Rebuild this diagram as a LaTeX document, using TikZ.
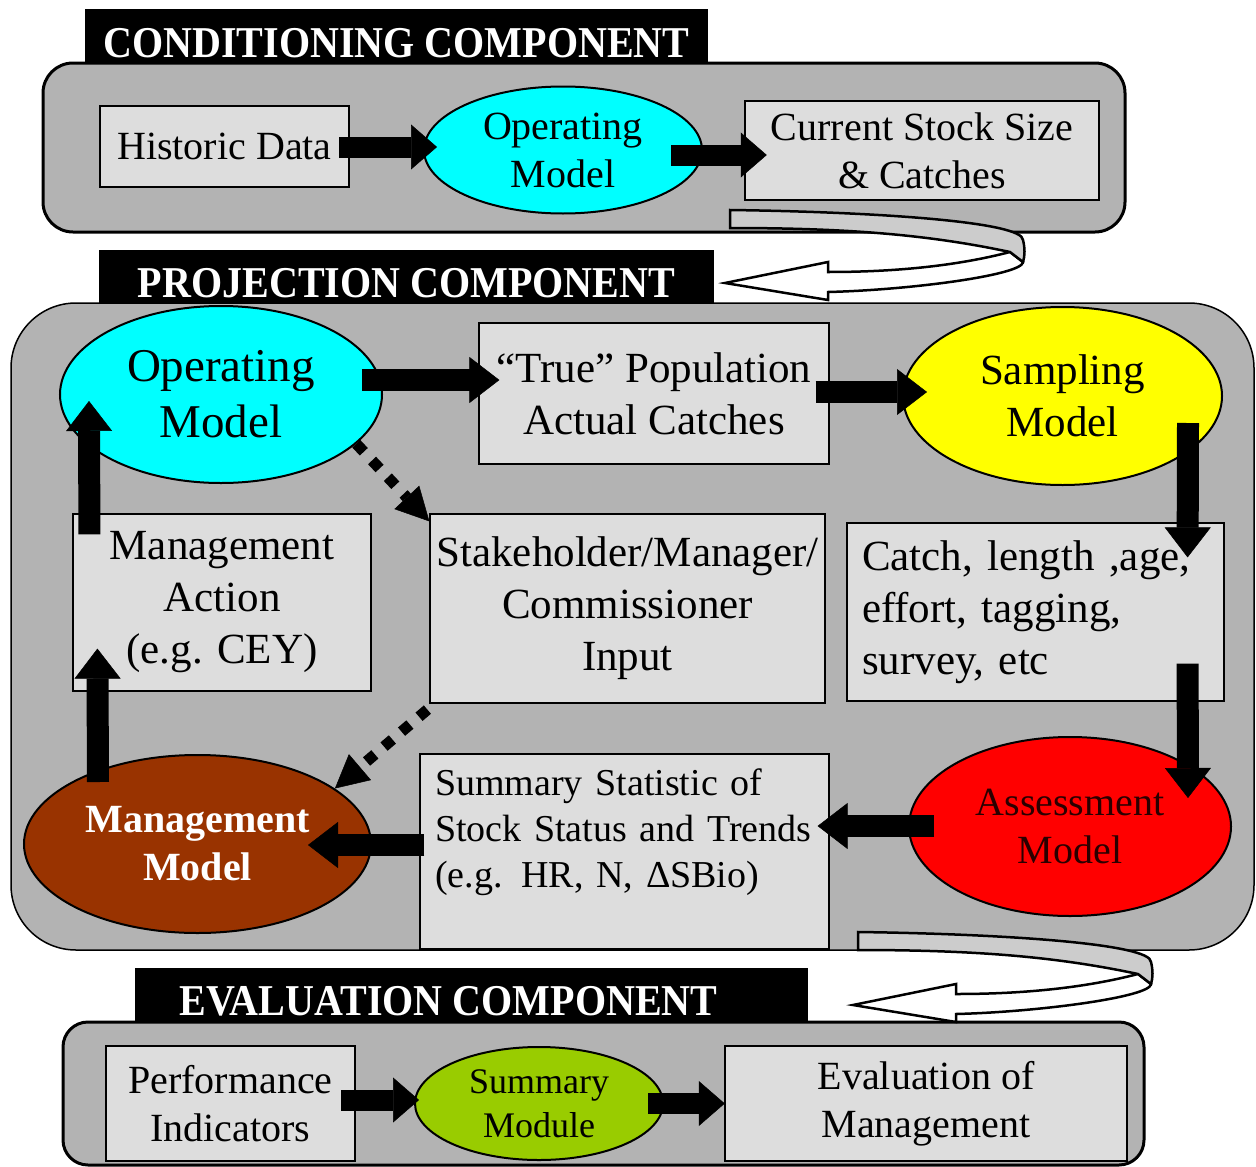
\documentclass[tikz,border=0pt]{standalone}
\usepackage{fontspec}
\usepackage{graphicx}
\usepackage{xcolor}
\setmainfont{Liberation Serif}
\usetikzlibrary{calc, shapes.geometric, arrows.meta}

\definecolor{panelgray}{HTML}{B3B3B3}
\definecolor{boxgray}{HTML}{DDDDDD}
\definecolor{ribbongray}{HTML}{CCCCCC}
\definecolor{modelcyan}{HTML}{00FFFF}
\definecolor{modelyellow}{HTML}{FFFF00}
\definecolor{modelred}{HTML}{FF0000}
\definecolor{mgmtbrown}{HTML}{993300}
\definecolor{modulegreen}{HTML}{99CC00}
\definecolor{assesstext}{HTML}{2A0000}

\newcommand{\bannerfont}{\fontsize{44}{44}\selectfont\bfseries}
\newcommand{\condfont}{\fontsize{40}{48}\selectfont}
\newcommand{\bigfont}{\fontsize{47}{56}\selectfont}
\newcommand{\projfont}{\fontsize{43}{52}\selectfont}
\newcommand{\statfont}{\fontsize{38}{46}\selectfont}
\newcommand{\modfont}{\fontsize{36}{44}\selectfont}

% U-turn ribbon arrow, #1 = top left corner of the ribbon
\newcommand{\uturnarrow}[1]{%
  \begin{scope}[shift={#1}]
    \draw[line width=2.5pt, fill=white] (280,42) .. controls (230,55) and (170,62) .. (98,62) -- (98,52) -- (-5,73) -- (98,90) -- (98,82) .. controls (180,80) and (293,65) .. (293,52) -- cycle;
    \draw[line width=2.5pt, fill=ribbongray] (0,0) .. controls (150,2) and (293,12) .. (293,30) .. controls (295,38) and (295,46) .. (293,52) -- (280,42) .. controls (200,25) and (120,18) .. (0,18) -- cycle;
  \end{scope}}

\tikzset{
  panel/.style={draw=black, fill=panelgray},
  banner/.style={fill=black, text=white, inner sep=0pt, font=\bannerfont, text height=43pt, text depth=0pt, minimum height=53pt},
  databox/.style={draw=black, fill=boxgray, inner sep=0pt, align=center},
  model/.style={ellipse, draw=black, line width=2pt, inner sep=0pt, align=center},
  bigarrow/.style={line width=22pt, -{Triangle[length=30pt,width=46pt,line width=0.5pt]}},
  smallarrow/.style={line width=21pt, -{Triangle[length=26pt,width=45pt,line width=0.5pt]}},
  dotarrow/.style={line width=11pt, dash pattern=on 11pt off 12pt, -{Triangle[length=33pt,width=34pt,line width=0.5pt]}},
}

\begin{document}
\begin{tikzpicture}[x=1pt, y=-1pt]
\useasboundingbox (0,0) rectangle (1256,1167);

% Panels of the three components
\draw[panel, line width=3pt, rounded corners=30pt] (43,63) rectangle (1125,232);
\draw[panel, line width=1.5pt, rounded corners=65pt] (11,303) rectangle (1254,950);
\draw[panel, line width=3pt, rounded corners=25pt] (63,1022) rectangle (1144,1165);

% Headings
\node[banner, minimum width=623pt] (condhead) at (396.5,35.5) {\scalebox{0.91}[1]{CONDITIONING COMPONENT}};
\node[banner, minimum width=615pt] (projhead) at (406.5,276) {\scalebox{0.91}[1]{PROJECTION COMPONENT}};
\node[banner, minimum width=673pt] (evalhead) at (471.5,994) {\hspace*{-46pt}\scalebox{0.91}[1]{EVALUATION COMPONENT}};

% Conditioning component
\node[databox, line width=2.5pt, minimum width=249pt, minimum height=81pt, font=\condfont] (histdata) at (224.5,146.5) {Historic Data};
\node[model, fill=modelcyan, minimum width=278pt, minimum height=127pt, font=\condfont] (opcond) at (563,150) {Operating\\Model};
\node[databox, line width=2.5pt, minimum width=354pt, minimum height=99pt, font=\condfont] (stocksize) at (922,150.5) {Current Stock Size\\\& Catches};

\draw[smallarrow] ([shift={(-11,0.5)}]histdata.east) -- ([shift={(14,-3)}]opcond.west);
\draw[smallarrow] ([shift={(-32,5)}]opcond.east) -- ([shift={(23,4.5)}]stocksize.west);

% Projection component
\node[model, fill=modelcyan, minimum width=322pt, minimum height=177pt, font=\bigfont] (opproj) at (221,394.5) {Operating\\Model};
\node[databox, line width=1.2pt, minimum width=350pt, minimum height=141pt, font=\projfont] (truepop) at (654,393.5) {“True” Population\\Actual Catches};
\node[model, fill=modelyellow, minimum width=319pt, minimum height=178pt, font=\projfont] (sampling) at (1062.5,396) {Sampling\\Model};
\node[databox, line width=1.2pt, minimum width=298pt, minimum height=177pt, font=\projfont] (mgmtaction) at (222,602.5) {Management\\Action\\(e.g. CEY)};
\node[databox, line width=1.2pt, minimum width=395pt, minimum height=189pt, font=\projfont] (stakeholder) at (627.5,608.5) {Stakeholder/Manager/\\Commissioner\\Input};
\node[databox, line width=1.2pt, align=left, text width=347pt, inner xsep=15pt, minimum height=178pt, font=\projfont] (catchdata) at (1035.5,612) {Catch, length ,age,\\effort, tagging,\\survey, etc};
\node[model, fill=mgmtbrown, text=white, minimum width=347pt, minimum height=178pt, font=\condfont\bfseries] (mgmtmodel) at (197.5,844) {Management\\Model};
\node[databox, line width=1.2pt, align=left, text width=379pt, inner xsep=15pt, minimum height=195pt, font=\statfont] (sumstat) at (624.5,851.5) {Summary Statistic of\\Stock Status and Trends\\(e.g. HR, N, ΔSBio)\\~};
\node[model, fill=modelred, text=assesstext, minimum width=322pt, minimum height=179pt, font=\condfont] (assessment) at (1070,826.5) {Assessment\\Model};

\draw[bigarrow] ([shift={(-21,-14.5)}]opproj.east) -- ([shift={(21,-13.5)}]truepop.west);
\draw[bigarrow] ([shift={(-14,-1.5)}]truepop.east) -- ([shift={(25,-4)}]sampling.west);
\draw[bigarrow] ([shift={(-35,27)}]sampling.east) -- ([shift={(-37,35)}]catchdata.north east);
\draw[bigarrow] ([shift={(-37,-38)}]catchdata.south east) -- ([shift={(-44,-28.5)}]assessment.east);
\draw[bigarrow] ([shift={(26,-0.5)}]assessment.west) -- ([shift={(-12,-25.5)}]sumstat.east);
\draw[bigarrow] ([shift={(5,-6.5)}]sumstat.west) -- ([shift={(-64,1)}]mgmtmodel.east);
\draw[bigarrow] ([shift={(-99.5,28)}]mgmtmodel.north) -- ([shift={(25,-43)}]mgmtaction.south west);
\draw[bigarrow] ([shift={(17,21)}]mgmtaction.north west) -- ([shift={(30,6.5)}]opproj.west);

% Stakeholder input
\draw[dotarrow] (opproj.-20) -- ([shift={(0,8)}]stakeholder.north west);
\draw[dotarrow] ([shift={(-2,6)}]stakeholder.south west) -- (mgmtmodel.22);

% Evaluation component
\node[databox, line width=2.5pt, minimum width=249pt, minimum height=115pt, font=\condfont] (perfind) at (230.5,1103.5) {Performance\\Indicators};
\node[model, fill=modulegreen, minimum width=248pt, minimum height=113pt, font=\modfont] (summodule) at (539,1103.5) {Summary\\Module};
\node[databox, line width=2.5pt, minimum width=402pt, minimum height=115pt, font=\condfont] (evalmgmt) at (926,1103.5) {Evaluation of\\Management};

\draw[smallarrow] ([shift={(-15,-3.5)}]perfind.east) -- ([shift={(5,-3.5)}]summodule.west);
\draw[smallarrow] ([shift={(-16,0)}]summodule.east) -- ([shift={(1,0)}]evalmgmt.west);

% Links between the components
\uturnarrow{(730,210)}
\uturnarrow{(858,932)}

\end{tikzpicture}
\end{document}
